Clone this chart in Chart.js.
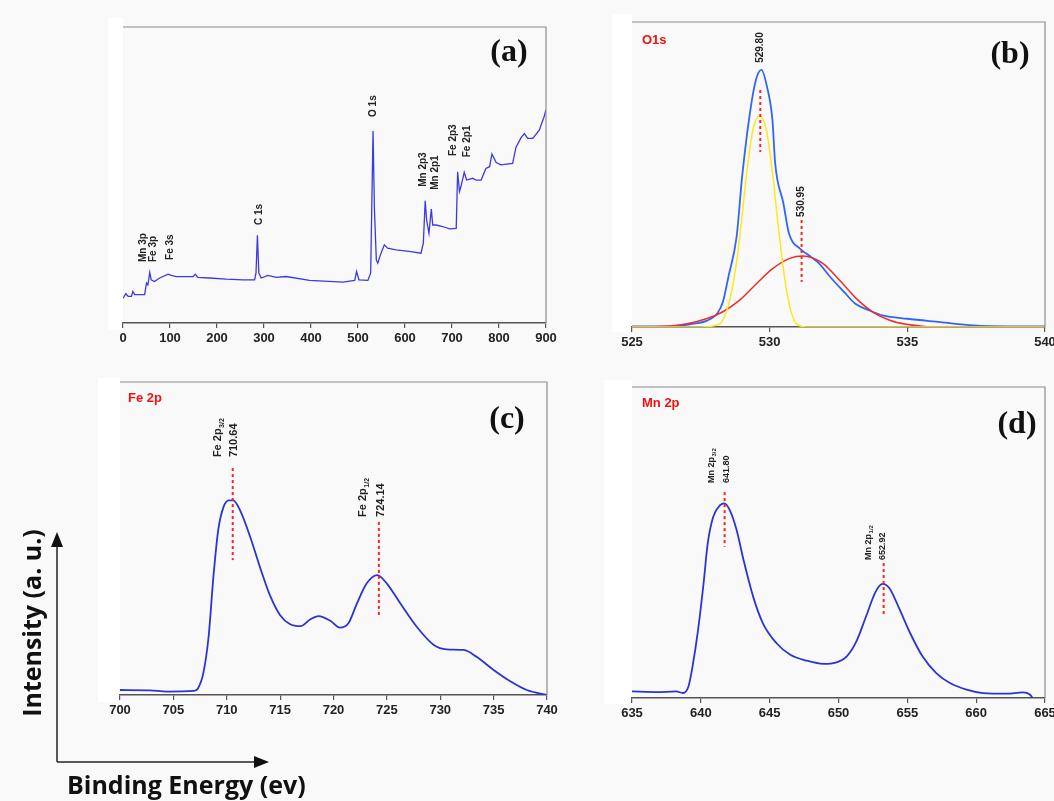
<!DOCTYPE html>
<html>
<head>
<meta charset="utf-8">
<script src="https://cdn.jsdelivr.net/npm/chart.js@4.4.1/dist/chart.umd.min.js"></script>
<style>
  body { margin: 0; width: 1054px; height: 801px; position: relative; overflow: hidden; background: #f9f9f9; font-family: 'Liberation Sans', Arial, sans-serif; }
  .box { position: absolute; }
  .white { position: absolute; background: #fff; }
  .axisTitle { position: absolute; font-family: 'Open Sans', 'Noto Sans', sans-serif; font-weight: 700; font-size: 25px; color: #111; white-space: nowrap; line-height: 1; }
</style>
</head>
<body>
<div class="white" style="left:108px;top:18px;width:15px;height:312px"></div>
<div class="white" style="left:612px;top:14px;width:20px;height:318px"></div>
<div class="white" style="left:98px;top:378px;width:22px;height:324px"></div>
<div class="white" style="left:604px;top:380px;width:28px;height:324px"></div>

<div class="box" style="left:98px;top:21px;width:473px;height:334px"><canvas id="panelA"></canvas></div>
<div class="box" style="left:607px;top:16px;width:463px;height:343px"><canvas id="panelB"></canvas></div>
<div class="box" style="left:95px;top:376px;width:477px;height:351px"><canvas id="panelC"></canvas></div>
<div class="box" style="left:607px;top:381px;width:463px;height:349px"><canvas id="panelD"></canvas></div>

<svg style="position:absolute;left:0;top:0" width="1054" height="801">
  <line x1="57" y1="762" x2="57" y2="545" stroke="#222" stroke-width="1.5"/>
  <polygon points="57,532 51,547 63,547" fill="#111"/>
  <line x1="57" y1="762" x2="256" y2="762" stroke="#222" stroke-width="1.5"/>
  <polygon points="269,762 254,756 254,768" fill="#111"/>
</svg>
<div class="axisTitle" style="left:31px;top:623px;transform:translate(-50%,-50%) rotate(-90deg)">Intensity (a. u.)</div>
<div class="axisTitle" style="left:67px;top:772px">Binding Energy (ev)</div>

<script>
// (a) survey spectrum
const surveyE = [0, 6, 11, 18, 21, 25, 46, 50, 53, 57, 60, 67, 78, 96, 103, 113, 149, 154, 159, 184, 220, 255, 280, 283, 286, 289, 294, 308, 326, 347, 397, 468, 493, 497, 502, 521, 527, 532, 535, 539, 542, 549, 556, 563, 581, 609, 634, 639, 643, 646, 651, 656, 659, 666, 680, 695, 709, 712, 716, 719, 726, 731, 744, 751, 762, 772, 780, 785, 794, 804, 829, 836, 847, 854, 861, 872, 886, 892, 896, 900];
const surveyI = [8.4, 9.9, 9.0, 9.0, 10.7, 9.6, 9.6, 13.5, 12.9, 17.1, 14.6, 14.0, 15.2, 16.5, 16.1, 15.7, 15.7, 16.5, 15.4, 15.2, 14.8, 14.6, 14.6, 16.9, 29.6, 16.9, 15.2, 16.1, 15.4, 15.7, 14.4, 13.8, 14.4, 17.4, 14.6, 14.4, 16.9, 64.9, 38.2, 21.3, 20.2, 23.6, 26.4, 25.3, 24.7, 24.2, 23.6, 27.0, 41.3, 34.8, 30.3, 38.5, 33.1, 33.1, 32.6, 31.8, 32.0, 51.1, 44.4, 46.1, 50.9, 48.3, 48.9, 48.3, 48.3, 52.2, 52.8, 57.1, 54.2, 53.4, 53.9, 59.3, 62.6, 64.0, 62.4, 62.4, 65.2, 68.0, 69.7, 72.1];
const surveyPeakText = ['Mn 3p', 'Fe 3p', 'Fe 3s', 'C 1s', 'O 1s', 'Mn 2p3', 'Mn 2p1', 'Fe 2p3', 'Fe 2p1'];
const surveyPeakE = [42.5, 65.2, 100.6, 290.6, 531.5, 637.8, 664, 703.7, 732];
const surveyPeakTop = [20.6, 20.6, 21.3, 33.1, 69.6, 46, 45, 56.4, 56];

// (b) O1s
const o1sE = [525, 526.5, 527.1, 527.7, 528.1, 528.3, 528.5, 528.8, 529.0, 529.3, 529.5, 529.7, 529.9, 530.1, 530.2, 530.5, 530.7, 531.1, 531.5, 531.8, 532.2, 532.7, 533.1, 533.6, 534.1, 535.0, 536.2, 537.4, 538.6, 540];
const o1sI = [0.2, 0.3, 0.9, 2.0, 4.5, 8.2, 16.4, 29.6, 49.3, 71.2, 81, 84.3, 78.9, 67.9, 53.7, 40.5, 30.7, 25.7, 23, 20.8, 16.4, 11.5, 7.7, 5.5, 3.8, 2.7, 1.6, 0.5, 0.2, 0.2];
const o1sFit1E = [525, 527.5, 528.18, 528.55, 528.79, 528.97, 529.15, 529.39, 529.64, 529.88, 530.12, 530.30, 530.54, 530.73, 530.97, 531.33, 540];
const o1sFit1I = [0, 0, 1, 8.8, 20.8, 34, 49.3, 64.6, 69.2, 64.6, 49.3, 34, 16.4, 6.6, 1.1, 0, 0];
const o1sFit2E = [525, 526.5, 527.7, 528.3, 528.91, 529.52, 530.12, 530.73, 531.21, 531.94, 532.54, 533.15, 533.75, 534.36, 534.96, 536.17, 540];
const o1sFit2I = [0, 0.4, 2.7, 5.0, 8.8, 14.2, 19.2, 22.5, 23.3, 20.8, 15.3, 9.3, 4.9, 2.2, 0.9, 0, 0];
const o1sPeakText = ['529.80', '530.95'];
const o1sPeakE = [529.66, 531.16];

// (c) Fe 2p
const fe2pE = [700, 702.8, 704.4, 706.9, 707.3, 707.8, 708.3, 708.75, 709.2, 709.7, 710.2, 710.6, 711.25, 712.2, 713.1, 714.1, 715, 715.9, 716.9, 717.8, 718.6, 719.7, 720.6, 721.4, 722.2, 723.1, 724.1, 725, 726.25, 727.8, 729.4, 730.6, 732.2, 733.4, 735, 736.6, 738.1, 740];
const fe2pI = [1.6, 1.5, 1.1, 1.3, 2.1, 6.9, 18.6, 37.8, 52.7, 60.1, 62.2, 62.2, 59, 50.5, 41, 31.4, 25.5, 22.7, 22, 24.1, 25.2, 23.7, 21.5, 22.9, 29.3, 35.6, 38.3, 35.6, 29.3, 21.8, 16, 14.6, 14.4, 12.2, 8, 4.3, 1.6, 0];
const fe2pPeakText = ['710.64', '724.14'];
const fe2pPeakE = [710.56, 724.25];

// (d) Mn 2p
const mn2pE = [635, 636.8, 638.2, 638.7, 639.1, 639.4, 639.8, 640.2, 640.5, 640.9, 641.4, 641.7, 642.1, 642.6, 643.1, 643.8, 644.5, 645.5, 646.5, 647.7, 648.9, 649.8, 650.6, 651.3, 652, 652.7, 653.2, 653.7, 654.4, 655.2, 656.1, 657.1, 658.1, 659.3, 660.5, 662.2, 663.4, 663.9, 664.1];
const mn2pI = [2.1, 1.9, 2.1, 1.6, 3.7, 10.2, 21.9, 36.9, 49.7, 58.3, 62, 62.6, 60.4, 54, 44.4, 32.6, 24.1, 17.6, 13.9, 12, 11, 11.4, 13.4, 18.2, 26.2, 34.2, 36.7, 35.3, 28.9, 20.9, 13.4, 8, 4.8, 2.7, 1.6, 1.4, 1.8, 1.1, 0];
const mn2pPeakText = ['641.80', '652.92'];
const mn2pPeakE = [641.73, 653.28];

const FONT = '"Liberation Sans", Arial, sans-serif';

// draws frame, red dashed markers, rotated peak labels, panel letter
const notesPlugin = {
  id: 'notes',
  afterDraw(chart, args, opts) {
    const { ctx, chartArea: a } = chart;
    const x = chart.scales.x, y = chart.scales.y;
    ctx.save();
    ctx.strokeStyle = '#8c8c8c';
    ctx.lineWidth = 1.2;
    ctx.beginPath();
    ctx.moveTo(a.left, a.top); ctx.lineTo(a.right, a.top); ctx.lineTo(a.right, a.bottom);
    ctx.stroke();

    ctx.strokeStyle = '#ff2020';
    ctx.lineWidth = 2;
    ctx.setLineDash([3, 3]);
    (opts.lines || []).forEach(l => {
      const px = x.getPixelForValue(l.x);
      ctx.beginPath();
      ctx.moveTo(px, y.getPixelForValue(l.y0));
      ctx.lineTo(px, y.getPixelForValue(l.y1));
      ctx.stroke();
    });
    ctx.setLineDash([]);

    (opts.labels || []).forEach(l => {
      const px = x.getPixelForValue(l.x), py = y.getPixelForValue(l.y);
      ctx.save();
      ctx.translate(px, py);
      ctx.rotate(-Math.PI / 2);
      ctx.fillStyle = '#222';
      ctx.textAlign = 'left';
      ctx.textBaseline = 'middle';
      ctx.font = `bold ${l.size}px ${FONT}`;
      ctx.fillText(l.text, 0, 0);
      if (l.sub) {
        const w = ctx.measureText(l.text).width;
        ctx.font = `bold ${Math.round(l.size * 0.62)}px ${FONT}`;
        ctx.fillText(l.sub, w + 0.5, l.size * 0.32);
      }
      ctx.restore();
    });

    if (opts.tag) {
      ctx.fillStyle = '#ee1111';
      ctx.font = `bold 13px ${FONT}`;
      ctx.textAlign = 'left';
      ctx.textBaseline = 'middle';
      ctx.fillText(opts.tag.text, a.left + opts.tag.dx, a.top + opts.tag.dy);
    }
    if (opts.letter) {
      ctx.fillStyle = '#111';
      ctx.font = 'bold 32px "Liberation Serif", "Times New Roman", serif';
      ctx.textAlign = 'center';
      ctx.textBaseline = 'middle';
      ctx.fillText(opts.letter.text, a.right - opts.letter.dx, a.top + opts.letter.dy);
    }
    ctx.restore();
  }
};

function toPoints(xs, ys) {
  return xs.map((v, i) => ({ x: v, y: ys[i] }));
}

function makePanel(id, series, xMin, xMax, step, notes) {
  return new Chart(document.getElementById(id), {
    type: 'line',
    data: {
      datasets: series.map(s => ({
        data: s.data,
        borderColor: s.color,
        borderWidth: s.width || 1.6,
        pointRadius: 0,
        fill: false,
        tension: s.smooth ? 0.4 : 0,
        cubicInterpolationMode: s.smooth ? 'monotone' : 'default'
      }))
    },
    options: {
      responsive: true,
      maintainAspectRatio: false,
      animation: false,
      layout: { padding: { left: 25, right: 25, top: 6, bottom: 0 } },
      plugins: { legend: { display: false }, tooltip: { enabled: false }, notes: notes },
      scales: {
        x: {
          type: 'linear',
          min: xMin,
          max: xMax,
          afterFit: s => { s.height = 32; },
          ticks: { stepSize: step, autoSkip: false, maxRotation: 0, padding: 3, color: '#222', font: { family: FONT, size: 13, weight: 'bold' } },
          grid: { display: true, drawOnChartArea: false, drawTicks: true, tickLength: 5, color: '#555', lineWidth: 1.2 },
          border: { display: true, color: '#555', width: 1.6 }
        },
        y: {
          display: false,
          min: 0,
          max: 100
        }
      }
    },
    plugins: [notesPlugin]
  });
}

// (a)
makePanel('panelA',
  [{ data: toPoints(surveyE, surveyI), color: '#3a3ae0', width: 1.3 }],
  0, 900, 100,
  {
    letter: { text: '(a)', dx: 37, dy: 26 },
    labels: surveyPeakText.map((t, i) => ({ text: t, x: surveyPeakE[i], y: surveyPeakTop[i], size: 10 }))
  });

// (b)
makePanel('panelB',
  [
    { data: toPoints(o1sFit1E, o1sFit1I), color: '#ffe81a', width: 1.5, smooth: true },
    { data: toPoints(o1sFit2E, o1sFit2I), color: '#ee2c2c', width: 1.5, smooth: true },
    { data: toPoints(o1sE, o1sI), color: '#3366f0', width: 1.8, smooth: true }
  ],
  525, 540, 5,
  {
    letter: { text: '(b)', dx: 35, dy: 33 },
    tag: { text: 'O1s', dx: 10, dy: 18 },
    lines: [
      { x: o1sPeakE[0], y0: 77.7, y1: 57.4 },
      { x: o1sPeakE[1], y0: 35.1, y1: 14.8 }
    ],
    labels: [
      { text: o1sPeakText[0], x: o1sPeakE[0], y: 86.6, size: 10 },
      { text: o1sPeakText[1], x: o1sPeakE[1], y: 36.1, size: 10 }
    ]
  });

// (c)
makePanel('panelC',
  [{ data: toPoints(fe2pE, fe2pI), color: '#2a35d0', width: 1.8, smooth: true }],
  700, 740, 5,
  {
    letter: { text: '(c)', dx: 40, dy: 38 },
    tag: { text: 'Fe 2p', dx: 8, dy: 16 },
    lines: [
      { x: fe2pPeakE[0], y0: 72.5, y1: 43.1 },
      { x: fe2pPeakE[1], y0: 55.3, y1: 24.6 }
    ],
    labels: [
      { text: 'Fe 2p', sub: '3/2', x: 709.22, y: 76, size: 11 },
      { text: fe2pPeakText[0], x: 710.63, y: 76, size: 11 },
      { text: 'Fe 2p', sub: '1/2', x: 722.8, y: 56.9, size: 11 },
      { text: fe2pPeakText[1], x: 724.4, y: 56.9, size: 11 }
    ]
  });

// (d)
makePanel('panelD',
  [{ data: toPoints(mn2pE, mn2pI), color: '#2a35d0', width: 1.8, smooth: true }],
  635, 665, 5,
  {
    letter: { text: '(d)', dx: 28, dy: 38 },
    tag: { text: 'Mn 2p', dx: 10, dy: 16 },
    lines: [
      { x: mn2pPeakE[0], y0: 66.2, y1: 48.6 },
      { x: mn2pPeakE[1], y0: 43.4, y1: 26.7 }
    ],
    labels: [
      { text: 'Mn 2p', sub: '3/2', x: 640.76, y: 69.1, size: 9 },
      { text: mn2pPeakText[0], x: 641.85, y: 69.1, size: 9 },
      { text: 'Mn 2p', sub: '1/2', x: 652.2, y: 44.4, size: 9 },
      { text: mn2pPeakText[1], x: 653.18, y: 44.4, size: 9 }
    ]
  });
</script>
</body>
</html>
